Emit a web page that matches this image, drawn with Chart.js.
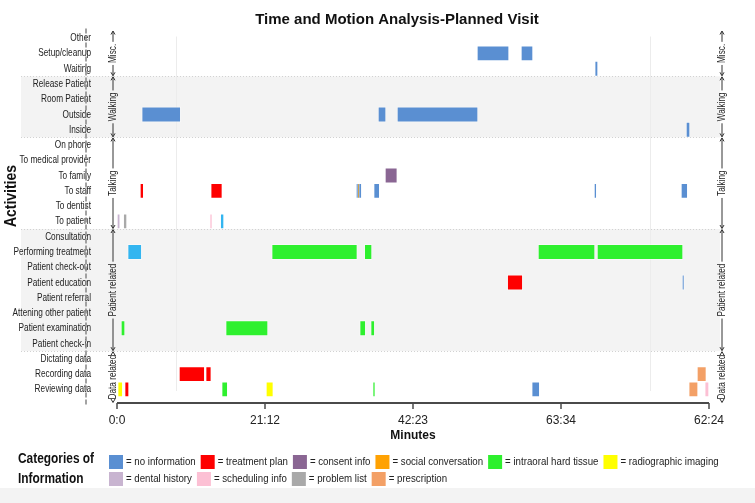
<!DOCTYPE html>
<html>
<head>
<meta charset="utf-8">
<script src="https://cdn.jsdelivr.net/npm/chart.js@4.4.0/dist/chart.umd.min.js"></script>
<style>
  html, body { margin: 0; padding: 0; background: #fff; }
</style>
</head>
<body>
<canvas id="timeChart" width="755" height="503"></canvas>
<script>
var FONT = '"Liberation Sans", Arial, sans-serif';

var activities = ['Other', 'Setup/cleanup', 'Waiting', 'Release Patient', 'Room Patient', 'Outside', 'Inside',
    'On phone', 'To medical provider', 'To family', 'To staff', 'To dentist', 'To patient',
    'Consultation', 'Performing treatment', 'Patient check-out', 'Patient education', 'Patient referral',
    'Attening other patient', 'Patient examination', 'Patient check-in',
    'Dictating data', 'Recording data', 'Reviewing data'];

// group name, first row, last row
var groups = [['Misc.', 0, 2], ['Walking', 3, 6], ['Talking', 7, 12], ['Patient related', 13, 20], ['Data related', 21, 23]];
var shadedGroups = ['Walking', 'Patient related'];

var tickMinutes = [0, 21.19, 42.38, 63.57, 84.76];
var tickLabels = ['0:0', '21:12', '42:23', '63:34', '62:24'];
var guideMinutes = [8.45, 76.3];

var categoryNames = ['no information', 'treatment plan', 'consent info', 'social conversation', 'intraoral hard tissue',
    'radiographic imaging', 'dental history', 'scheduling info', 'problem list', 'prescription'];
var categoryColors = ['#5a8fd2', '#fe0000', '#8a6693', '#ffa203', '#2ef02e',
    '#ffff00', '#c8b4d0', '#fcc0d4', '#a9a9a9', '#f3a066'];

// [activity, start minute, end minute]
var noInformation = [
    ['Setup/cleanup', 51.54, 56.13], ['Setup/cleanup', 57.84, 59.56], ['Waiting', 68.40, 68.87],
    ['Outside', 3.54, 9.12], ['Outside', 37.37, 38.52], ['Outside', 40.09, 51.69], ['Inside', 81.47, 82.04],
    ['To staff', 34.22, 35.04], ['To staff', 36.75, 37.61], ['To staff', 68.30, 68.68], ['To staff', 80.75, 81.71],
    ['Patient education', 80.90, 81.23], ['Reviewing data', 59.38, 60.52]
];
var treatmentPlan = [
    ['To staff', 3.29, 3.82], ['To staff', 13.42, 15.08], ['Patient education', 55.88, 58.09],
    ['Recording data', 8.88, 12.56], ['Recording data', 12.70, 13.50], ['Reviewing data', 1.10, 1.72]
];
var consentInfo = [['To family', 38.37, 40.13]];
var socialConversation = [['To staff', 34.44, 34.72]];
var intraoralHardTissue = [
    ['Performing treatment', 22.15, 34.41], ['Performing treatment', 35.41, 36.51],
    ['Performing treatment', 60.28, 68.44], ['Performing treatment', 68.73, 81.04],
    ['Patient examination', 0.57, 1.15], ['Patient examination', 15.56, 21.62],
    ['Patient examination', 34.75, 35.61], ['Patient examination', 36.32, 36.90],
    ['Reviewing data', 14.99, 15.85], ['Reviewing data', 36.61, 36.98]
];
var radiographicImaging = [['Reviewing data', 0.10, 0.82], ['Reviewing data', 21.33, 22.38]];
var dentalHistory = [['To patient', 0.0, 0.45]];
var schedulingInfo = [['To patient', 13.27, 13.65], ['Reviewing data', 84.15, 84.76]];
var problemList = [['To patient', 0.90, 1.43]];
var prescription = [['Recording data', 83.04, 84.38], ['Reviewing data', 81.86, 83.19]];
// light blue marks that have no legend entry
var otherMarks = [['To patient', 14.79, 15.32], ['Performing treatment', 1.53, 3.54]];
var otherColor = '#33b5f0';

var seriesList = [noInformation, treatmentPlan, consentInfo, socialConversation, intraoralHardTissue,
    radiographicImaging, dentalHistory, schedulingInfo, problemList, prescription];

function toPoints(rows) {
    return rows.map(function (r) { return { y: r[0], x: [r[1], r[2]] }; });
}

var datasets = seriesList.map(function (rows, i) {
    return {
        label: categoryNames[i],
        data: toPoints(rows),
        backgroundColor: categoryColors[i],
        order: i === 3 ? -1 : 1
    };
});
datasets.push({ label: 'other', data: toPoints(otherMarks), backgroundColor: otherColor, order: 1 });

// condensed text: the original uses a narrow face
function narrowText(c, text, x, y, sx, rot) {
    c.save();
    c.translate(x, y);
    if (rot) c.rotate(rot);
    c.scale(sx, 1);
    c.fillText(text, 0, 0);
    c.restore();
}

var decor = {
    id: 'decor',
    beforeDraw: function (chart) {
        var c = chart.ctx, area = chart.chartArea, ys = chart.scales.y, xs = chart.scales.x;
        var pitch = ys.getPixelForValue(1) - ys.getPixelForValue(0);
        c.save();
        c.fillStyle = '#fff';
        c.fillRect(0, 0, chart.width, chart.height);
        groups.forEach(function (g) {
            if (shadedGroups.indexOf(g[0]) < 0) return;
            var y1 = ys.getPixelForValue(g[1]) - pitch / 2;
            var y2 = ys.getPixelForValue(g[2]) + pitch / 2;
            c.fillStyle = '#f3f3f3';
            c.fillRect(21, y1, area.right + 11 - 21, y2 - y1);
            c.strokeStyle = '#d2d2d2';
            c.lineWidth = 1;
            c.setLineDash([1, 2]);
            c.beginPath();
            c.moveTo(21, Math.round(y1) + 0.5); c.lineTo(area.right + 7, Math.round(y1) + 0.5);
            c.moveTo(21, Math.round(y2) + 0.5); c.lineTo(area.right + 7, Math.round(y2) + 0.5);
            c.stroke();
        });
        c.setLineDash([]);
        c.strokeStyle = '#ececec';
        guideMinutes.forEach(function (m) {
            var x = Math.round(xs.getPixelForValue(m)) + 0.5;
            c.beginPath();
            c.moveTo(x, area.top + 6);
            c.lineTo(x, area.bottom - 6);
            c.stroke();
        });
        c.restore();
    },
    afterDraw: function (chart) {
        var c = chart.ctx, area = chart.chartArea, ys = chart.scales.y, xs = chart.scales.x;
        var pitch = ys.getPixelForValue(1) - ys.getPixelForValue(0);
        var axisY = area.bottom + 6;
        c.save();

        // activity labels, placed by the category scale
        c.fillStyle = '#222';
        c.font = '11px ' + FONT;
        c.textAlign = 'right';
        c.textBaseline = 'middle';
        activities.forEach(function (a, i) {
            narrowText(c, a, area.left - 26, ys.getPixelForValue(i), 0.75);
        });

        // x axis line and ticks
        c.strokeStyle = '#4a4a4a';
        c.lineWidth = 2;
        c.beginPath();
        c.moveTo(area.left, axisY);
        c.lineTo(area.right, axisY);
        c.stroke();
        c.lineWidth = 1.5;
        tickMinutes.forEach(function (m) {
            var x = xs.getPixelForValue(m);
            c.beginPath();
            c.moveTo(x, axisY);
            c.lineTo(x, axisY + 6);
            c.stroke();
        });

        // dashed line through activity labels
        c.strokeStyle = 'rgba(140,140,140,0.8)';
        c.lineWidth = 2;
        c.setLineDash([5, 2]);
        c.beginPath();
        c.moveTo(area.left - 31, area.top - 2);
        c.lineTo(area.left - 31, axisY + 2);
        c.stroke();
        c.setLineDash([]);

        // group brackets on both sides
        function bracket(x) {
            c.strokeStyle = '#333';
            c.fillStyle = '#222';
            c.lineWidth = 1;
            c.font = '10px ' + FONT;
            c.textAlign = 'center';
            c.textBaseline = 'middle';
            groups.forEach(function (g, idx) {
                var yTop = idx === 0 ? area.top : ys.getPixelForValue(g[1]) - pitch / 2;
                var yBot = idx === groups.length - 1 ? axisY : ys.getPixelForValue(g[2]) + pitch / 2;
                var mid = (yTop + yBot) / 2;
                var w = c.measureText(g[0]).width * 0.82;
                c.beginPath();
                c.moveTo(x, yTop + 1); c.lineTo(x, mid - w / 2 - 2);
                c.moveTo(x, mid + w / 2 + 2); c.lineTo(x, yBot - 1);
                c.moveTo(x - 2, yTop + 4); c.lineTo(x, yTop + 0.5); c.lineTo(x + 2, yTop + 4);
                c.moveTo(x - 2, yBot - 4); c.lineTo(x, yBot - 0.5); c.lineTo(x + 2, yBot - 4);
                c.stroke();
                narrowText(c, g[0], x, mid, 0.82, -Math.PI / 2);
            });
        }
        bracket(area.left - 4);
        bracket(area.right + 13);

        // titles
        c.fillStyle = '#111';
        c.textAlign = 'center';
        c.textBaseline = 'middle';
        c.font = 'bold 15px ' + FONT;
        c.fillText('Time and Motion Analysis-Planned Visit', 397, 20);
        c.font = 'bold 12px ' + FONT;
        c.fillText('Minutes', (area.left + area.right) / 2, 436);
        c.font = 'bold 17px ' + FONT;
        narrowText(c, 'Activities', 11, 196, 0.82, -Math.PI / 2);

        // legend
        c.textAlign = 'left';
        c.font = 'bold 14px ' + FONT;
        narrowText(c, 'Categories of', 18, 459, 0.85);
        narrowText(c, 'Information', 18, 479, 0.85);
        var rows = [[0, 1, 2, 3, 4, 5], [6, 7, 8, 9]];
        var rowY = [462, 479];
        c.font = '11px ' + FONT;
        rows.forEach(function (r, ri) {
            var x = 109;
            r.forEach(function (k) {
                c.fillStyle = categoryColors[k];
                c.fillRect(x, rowY[ri] - 7, 14, 14);
                c.fillStyle = '#222';
                var t = '= ' + categoryNames[k];
                narrowText(c, t, x + 17, rowY[ri], 0.88);
                x += 17 + c.measureText(t).width * 0.88 + 5;
            });
        });

        c.fillStyle = '#f3f3f3';
        c.fillRect(0, 488, chart.width, chart.height - 488);
        c.restore();
    }
};

var ctx = document.getElementById('timeChart').getContext('2d');

var timeChart = new Chart(ctx, {
    type: 'bar',
    data: {
        labels: activities,
        datasets: datasets
    },
    options: {
        indexAxis: 'y',
        responsive: false,
        animation: false,
        layout: { padding: { top: 30.5, right: 46, bottom: 0, left: 0 } },
        datasets: {
            bar: {
                grouped: false,
                barPercentage: 1,
                categoryPercentage: 1,
                borderWidth: 1,
                borderColor: 'rgba(255,255,255,0.45)',
                borderSkipped: false
            }
        },
        plugins: {
            legend: { display: false },
            tooltip: { enabled: false },
            title: { display: false }
        },
        scales: {
            x: {
                type: 'linear',
                min: 0,
                max: 84.76,
                grid: { display: false, drawTicks: false },
                border: { display: false },
                afterBuildTicks: function (s) { s.ticks = tickMinutes.map(function (v) { return { value: v }; }); },
                afterFit: function (s) { s.height = 106; },
                ticks: {
                    padding: 16,
                    autoSkip: false,
                    maxRotation: 0,
                    color: '#222',
                    font: { family: FONT, size: 12 },
                    callback: function (v, i) { return tickLabels[i]; }
                }
            },
            y: {
                type: 'category',
                grid: { display: false, drawTicks: false },
                border: { display: false },
                afterFit: function (s) { s.width = 117; },
                ticks: { display: false, autoSkip: false }
            }
        }
    },
    plugins: [decor]
});
</script>
</body>
</html>
